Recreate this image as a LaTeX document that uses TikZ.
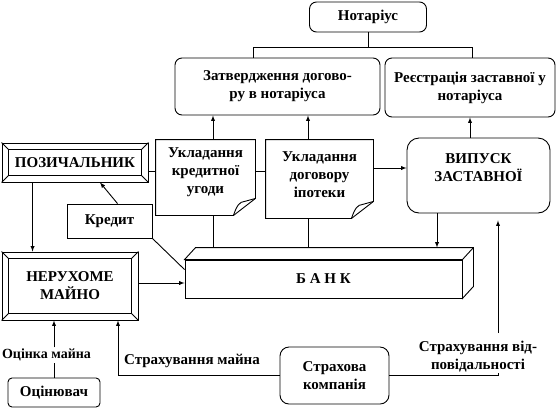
\documentclass[tikz,border=0pt]{standalone}
\usepackage{fontspec}
\setmainfont{Liberation Serif}

\begin{document}
\begin{tikzpicture}[x=1pt,y=-1pt,line width=0.9pt,
  every node/.style={font=\bfseries\fontsize{15}{18}\selectfont,align=center,inner sep=1pt},
  rbox/.style={draw,fill=white,rounded corners=7pt},
  sbox/.style={draw,fill=white}]
  \useasboundingbox (0,0) rectangle (556,408);

  % notary and its two boxes
  \node[rbox,minimum width=117,minimum height=30] (notar) at (368,17) {Нотаріус};
  \node[rbox,minimum width=205,minimum height=57] (zatv) at (277.5,86.5) {Затвердження догово-\\ру в нотаріуса};
  \node[rbox,minimum width=170,minimum height=59] (reie) at (470,87.5) {Реєстрація заставної у\\нотаріуса};

  % borrower, credit, property
  \node[sbox,minimum width=146,minimum height=39] (poz) at (75,162.5) {ПОЗИЧАЛЬНИК};
  \node[sbox,minimum width=85,minimum height=34] (kredit) at (109.5,221) {Кредит};
  \node[sbox,minimum width=136,minimum height=68] (neruh) at (70,286) {НЕРУХОМЕ\\МАЙНО};
  \foreach \b in {poz,neruh} {
    \draw ([shift={(7pt,-7pt)}]\b.north west) rectangle ([shift={(-7pt,7pt)}]\b.south east);
    \draw (\b.north west) -- ++(7pt,-7pt);
    \draw (\b.north east) -- ++(-7pt,-7pt);
    \draw (\b.south west) -- ++(7pt,7pt);
    \draw (\b.south east) -- ++(-7pt,7pt);
  }

  % the two documents
  \node[minimum width=99,minimum height=75] (doc1) at (205.5,177.5) {};
  \node[minimum width=107,minimum height=78] (doc2) at (319.5,179) {};
  \foreach \d in {doc1,doc2} {
    \draw[fill=white] (\d.north west) -- (\d.north east) -- ([yshift=17pt]\d.south east)
      -- ([xshift=-22pt]\d.south east) -- (\d.south west) -- cycle;
    \draw ([xshift=-22pt]\d.south east) .. controls ([shift={(-19pt,9pt)}]\d.south east)
      and ([shift={(-16pt,14pt)}]\d.south east) .. ([shift={(-11pt,14pt)}]\d.south east)
      -- ([yshift=17pt]\d.south east);
  }
  \node (doc1txt) at ([yshift=5pt]doc1.center) {Укладання\\кредитної\\угоди};
  \node (doc2txt) at ([yshift=4pt]doc2.center) {Укладання\\договору\\іпотеки};

  % pledge issue
  \node[rbox,rounded corners=12pt,minimum width=143,minimum height=75] (vypusk) at (478.5,175.5) {};
  \node (vyptxt) at ([yshift=8pt]vypusk.center) {ВИПУСК\\ЗАСТАВНОЇ};

  % bank
  \node[sbox,minimum width=277,minimum height=38] (bank) at (323.5,279) {Б А Н К};
  \draw[fill=white] (bank.north west) -- ([shift={(11pt,12pt)}]bank.north west)
    -- ([shift={(11pt,12pt)}]bank.north east) -- ([shift={(11pt,12pt)}]bank.south east)
    -- (bank.south east) -- (bank.north east) -- cycle;
  \draw (bank.north east) -- ([shift={(11pt,12pt)}]bank.north east);
  \coordinate (bt) at ([yshift=12pt]bank.north);

  % insurance and valuer
  \node[rbox,rounded corners=9pt,minimum width=109,minimum height=57] (strakh) at (334.5,375.5) {Страхова\\компанія};
  \node[rbox,rounded corners=4pt,minimum width=92,minimum height=29] (otsinuvach) at (54,392.5) {Оцінювач};
  \node[font=\bfseries\fontsize{14}{17}\selectfont] (otsinka) at (46.5,355) {Оцінка майна};
  \node (strmaina) at (192,361) {Страхування майна};
  \node[inner sep=0pt] (vidp) at (478,357) {Страхування від-\\повідальності};

  % connectors
  \coordinate (nl) at (253,47);
  \coordinate (nr) at (472,47);
  \coordinate (v1) at (213,0);
  \coordinate (v2) at (308,0);
  \coordinate (sm) at (118,0);
  \coordinate (vk) at (498,0);
  \draw (notar.south) -- (notar.south |- nl);
  \draw (nl |- zatv.north) -- (nl) -- (nr) -- (nr |- reie.north);
  \draw[-latex] (v1 |- doc1.north) -- (v1 |- zatv.south);
  \draw[-latex] (v2 |- doc2.north) -- (v2 |- zatv.south);
  \draw (v1 |- doc1.south) -- (v1 |- bt);
  \draw (v2 |- doc2.south) -- (v2 |- bt);
  \draw[-latex] (reie.south |- vypusk.north) -- (reie.south);
  \draw[-latex] ([yshift=11pt]doc2.east) -- ([yshift=11pt]doc2.east -| vypusk.west);
  \draw[-latex] ([xshift=-41.5pt]vypusk.south) -- ([xshift=-41.5pt]vypusk.south |- bt);
  \draw ([yshift=-8.5pt]poz.east) -- ([yshift=-8.5pt]poz.east -| doc1.west);
  \draw ([yshift=6.5pt]doc1.east) -- ([yshift=6.5pt]doc1.east -| doc2.west);
  \draw[-latex] ([xshift=31pt]poz.south west) -- ([xshift=31pt]poz.south west |- neruh.north);
  \draw[-latex] ([xshift=8pt]kredit.north) -- ([xshift=25pt]poz.south);
  \draw (kredit.south east) -- ([yshift=-10pt]bank.north west);
  \draw[-latex] ([yshift=3pt]neruh.east) -- ([yshift=3pt]neruh.east -| bank.west);
  \draw[-latex] (strakh.west) -| (sm |- neruh.south);
  \draw (strakh.east) -| (vk |- vidp.south);
  \draw[-latex,shorten <=8pt] (vk |- vidp.north) -- ([yshift=-7pt]vk |- vypusk.south);
  \draw (otsinuvach.north) -- (otsinuvach.north |- otsinka.south);
  \draw[-latex] (otsinuvach.north |- otsinka.north) -- (otsinuvach.north |- neruh.south);
\end{tikzpicture}
\end{document}
